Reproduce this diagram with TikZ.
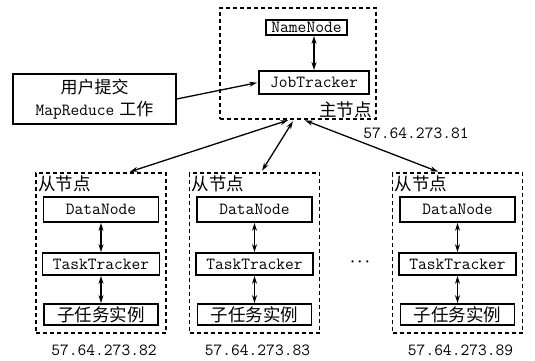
\documentclass[tikz,border=0pt]{standalone}
\usepackage{fontspec}
\newfontfamily\cjk{Noto Sans CJK SC}
\usetikzlibrary{arrows.meta}

\tikzset{
  group/.style={draw, line width=1.2pt, dash pattern=on 4pt off 3pt, inner sep=0pt},
  unit/.style={draw, line width=1.8pt, inner sep=0pt, font=\fontsize{17}{19}\ttfamily},
  tag/.style={inner sep=1.5pt, font=\fontsize{17.5}{20}\cjk},
  addr/.style={font=\fontsize{17}{20}\ttfamily},
  link/.style={line width=1.3pt, {Stealth[length=8pt, width=5pt]}-{Stealth[length=8pt, width=5pt]}, shorten >=2pt, shorten <=2pt},
}

\begin{document}
\begin{tikzpicture}[x=1pt, y=-1pt]
\useasboundingbox (0,0) rectangle (535,361);

% master node
\node[group, minimum width=156pt, minimum height=111pt] (master) at (298,63.5) {};
\node[unit, minimum width=81pt, minimum height=15pt] (name) at (306.5,27.5) {NameNode};
\node[unit, minimum width=110pt, minimum height=23pt] (job) at (314,82.5) {JobTracker};
\node[tag, anchor=south east] (mtag) at ([xshift=-3pt]master.south east) {主节点};
\node[addr] (mip) at (416,133) {57.64.273.81};
\draw[link, shorten >=0pt, shorten <=0pt] (job.north) -- (job.north |- name.south);

% client
\node[draw, line width=1.3pt, minimum width=163pt, minimum height=50pt, align=center,
      font=\fontsize{17}{22}\selectfont] (user) at (94.5,99)
      {{\cjk 用户提交}\\{\ttfamily MapReduce} {\cjk 工作}};
\draw[line width=1.3pt, -{Stealth[length=8pt, width=5pt]}, shorten >=1pt] (user.east) -- (job.west);

% slave nodes
\foreach \x/\ip/\dx/\mx in {101/82/27/-8, 254.5/83/6.5/-4, 457.5/89/-17.5/5} {
  \node[group, minimum width=130pt, minimum height=160pt] (s\ip) at (\x,253) {};
  \node[tag, anchor=north west] (l\ip) at ([xshift=1pt,yshift=-2pt]s\ip.north west) {从节点};
  \node[unit, minimum width=115pt, minimum height=25pt] (d\ip) at (\x,209.5) {DataNode};
  \node[unit, minimum width=117pt, minimum height=22pt] (t\ip) at (\x,264) {TaskTracker};
  \node[unit, minimum width=114pt, minimum height=21pt, font=\fontsize{17.5}{20}\cjk] (c\ip) at (\x,314.5) {子任务实例};
  \node[addr] (ip\ip) at (\x+3,350) {57.64.273.\ip};
  \draw[link, shorten >=0pt, shorten <=0pt] (d\ip) -- (t\ip);
  \draw[link, shorten >=0pt, shorten <=0pt] (t\ip) -- (c\ip);
  \draw[link] ([xshift=\mx pt]master.south) -- ([xshift=\dx pt]s\ip.north);
}

\node[font=\fontsize{15}{17}\selectfont\boldmath] (dots) at (360,262) {$\cdots$};
\end{tikzpicture}
\end{document}
